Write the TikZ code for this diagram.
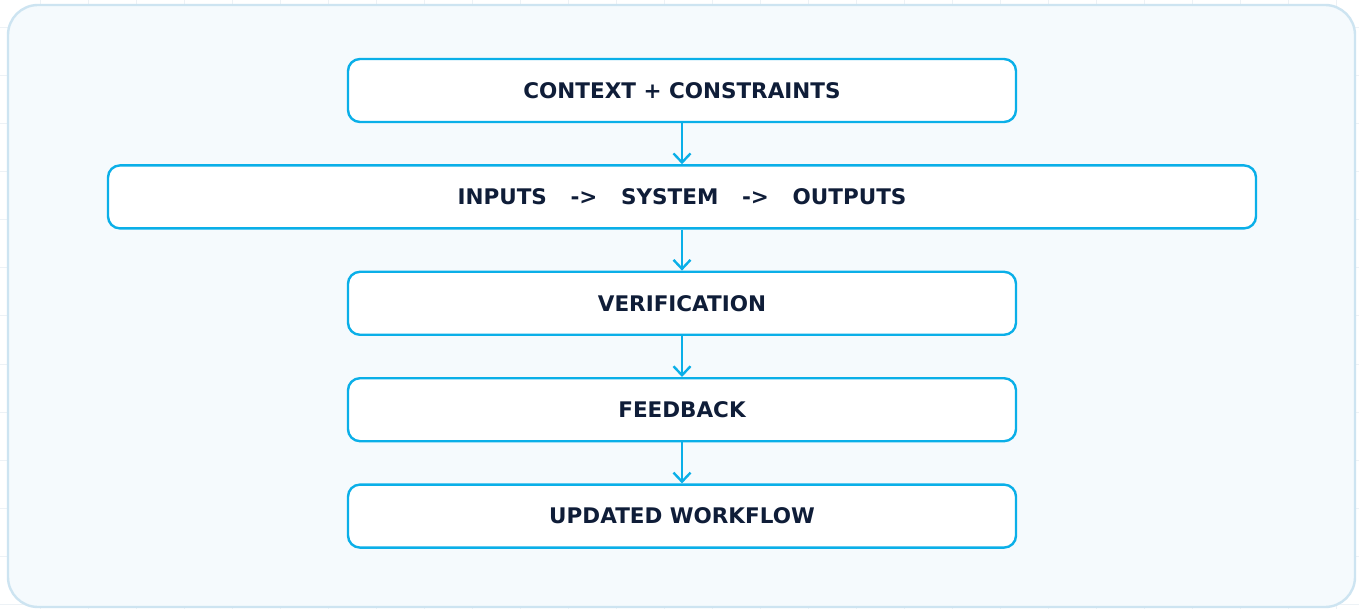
\documentclass[tikz,border=0pt]{standalone}
\usepackage{fontspec}
\setmainfont{DejaVu Sans}
\usepackage{xcolor}
\usetikzlibrary{positioning, arrows.meta}

\definecolor{gridline}{HTML}{EDF2F6}
\definecolor{panelfill}{HTML}{F5FAFD}
\definecolor{panelline}{HTML}{CDE4F1}
\definecolor{boxline}{HTML}{0AAFE8}
\definecolor{boxtext}{HTML}{0F1D38}

\tikzset{
    stage/.style={draw=boxline, line width=2.4pt, fill=white, rounded corners=12pt,
        minimum width=668pt, minimum height=63pt, inner sep=0pt,
        font=\fontsize{21.5}{26}\selectfont\bfseries, text=boxtext},
    flow/.style={boxline, line width=2.4pt, -{Straight Barb[length=9pt, width=17pt, line width=2.4pt]}}
}

\begin{document}
\begin{tikzpicture}[x=1pt, y=1pt]
    \useasboundingbox (0,0) rectangle (1359,-609);
    \fill[white] (0,0) rectangle (1359,-609);

    % Draw the grid
    \foreach \x in {40,88,...,1359} \draw[gridline, line width=1pt] (\x,0) -- (\x,-609);
    \foreach \y in {28,76,...,609} \draw[gridline, line width=1pt] (0,-\y) -- (1359,-\y);

    % Draw the panel
    \draw[panelline, fill=panelfill, line width=2.4pt, rounded corners=30pt] (8,-5) rectangle (1355,-607);

    % Add the stages
    \node[stage] (ctx) at (682,-90.5) {CONTEXT + CONSTRAINTS};
    \node[stage, minimum width=1148pt, below=41pt of ctx] (sys) {INPUTS\hspace{1.1em}->\hspace{1.1em}SYSTEM\hspace{1.1em}->\hspace{1.1em}OUTPUTS};
    \node[stage, below=41pt of sys] (ver) {VERIFICATION};
    \node[stage, below=41pt of ver] (fb) {FEEDBACK};
    \node[stage, below=41pt of fb] (upd) {UPDATED WORKFLOW};

    % Connect them
    \draw[flow] (ctx) -- (sys);
    \draw[flow] (sys) -- (ver);
    \draw[flow] (ver) -- (fb);
    \draw[flow] (fb) -- (upd);
\end{tikzpicture}
\end{document}
